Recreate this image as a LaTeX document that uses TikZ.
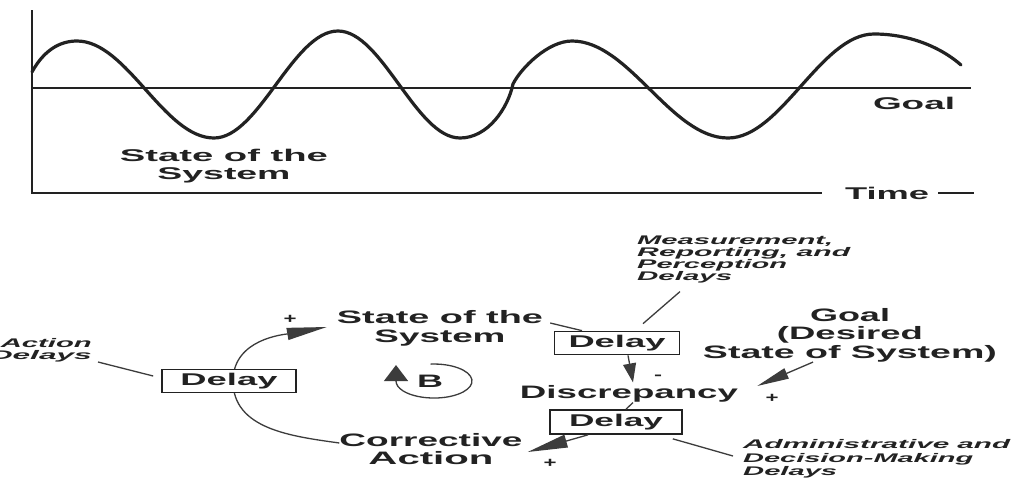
\documentclass[tikz,border=0pt]{standalone}
\usepackage{fontspec}
\setmainfont{Liberation Sans}
\usepackage{graphicx}
\usetikzlibrary{arrows.meta,backgrounds}
\definecolor{ink}{HTML}{222222}
\definecolor{wire}{HTML}{3C3C3C}
\newcommand\W[2]{\resizebox{#1pt}{\height}{#2}}
\begin{document}
\begin{tikzpicture}[x=1pt,y=1pt,
  lbl/.style={font=\fontsize{18}{18.8}\selectfont\bfseries, align=center, inner sep=0pt, text=ink},
  toplbl/.style={font=\fontsize{17}{18}\selectfont\bfseries, align=center, inner sep=0pt, text=ink},
  note/.style={font=\fontsize{12.5}{12}\selectfont\bfseries\itshape, inner sep=0pt, text=ink},
  sign/.style={font=\fontsize{14}{14}\selectfont\bfseries, inner sep=0pt, text=ink},
  delaybox/.style={draw=ink, line width=1.7pt, fill=white, inner sep=0pt, font=\fontsize{17}{17}\selectfont\bfseries, text=ink},
  wirel/.style={draw=wire, line width=1.3pt},
  axisl/.style={draw=ink, line width=1.7pt},
  wavel/.style={draw=ink, line width=3.2pt, line join=round, line cap=round}]
\begin{pgfonlayer}{background}
  \fill[white] (0,0) rectangle (1013,-480);
\end{pgfonlayer}
\useasboundingbox (0,0) rectangle (1013,-480);

% ---------- top chart ----------
\coordinate (origin) at (32,-193);
\coordinate (ytop) at (32,-10);
\coordinate (gl0) at (32,-88);
\coordinate (gl1) at (971,-88);
\node[toplbl] (time) at (887,-193) {\W{84}{Time}};
\node[toplbl] (goaltop) at (914,-103) {\W{82}{Goal}};
\node[toplbl] (sot) at (224,-166) {\W{208}{State of the}\\\W{133}{System}};
\draw[axisl] (ytop) -- (origin) -- ([xshift=-23pt]time.west);
\draw[axisl] ([xshift=9pt]time.east) -- ([xshift=45pt]time.east);
\draw[axisl] (gl0) -- (gl1);
\draw[wavel] (32,-72)
  .. controls +(12,22) and +(-17,0) .. (77,-41)
  .. controls +(50,0) and +(-50,0) .. (214,-138)
  .. controls +(45,0) and +(-45,0) .. (338,-31)
  .. controls +(44,0) and +(-44,0) .. (460,-138)
  .. controls +(28,0) and +(-5,-24) .. (513,-84)
  .. controls +(8,16) and +(-24,0) .. (572,-41)
  .. controls +(57,0) and +(-57,0) .. (728,-138)
  .. controls +(53,0) and +(-53,0) .. (874,-34)
  .. controls +(38,0) and +(-18,16) .. (961,-65);

% ---------- bottom loop diagram ----------
\node[lbl] (ss) at (440,-328) {\W{206}{State of the}\\\W{131}{System}};
\node[lbl] (ca) at (431,-449) {\W{183}{Corrective}\\\W{125}{Action}};
\node[lbl] (dis) at (629,-394) {\W{218}{Discrepancy}};
\node[lbl, font=\fontsize{18}{18.5}\selectfont\bfseries] (goal) at (850,-335)
  {\W{80}{Goal}\\\W{146}{(Desired}\\\W{294}{State of System)}};
\node[lbl] (B) at (430,-381) {\W{26}{B}};

\node[delaybox, minimum width=134pt, minimum height=23pt] (d1) at (229,-381) {\W{97}{Delay}};
\node[delaybox, minimum width=125pt, minimum height=23pt] (d2) at (617,-343) {\W{97}{Delay}};
\node[delaybox, minimum width=132pt, minimum height=24pt] (d3) at (616,-422) {\W{94}{Delay}};

\node[note, align=right, anchor=east] (act) at (92,-350) {\W{91}{Action}\\\W{102}{Delays}};
\node[note, align=left, anchor=north west] (meas) at (637,-236)
  {\W{196}{Measurement,}\\\W{213}{Reporting, and}\\\W{150}{Perception}\\\W{95}{Delays}};
\node[note, align=left, anchor=west, font=\fontsize{12.5}{13.5}\selectfont\bfseries\itshape] (adm) at (743,-459)
  {\W{267}{Administrative and}\\\W{230}{Decision-Making}\\\W{94}{Delays}};

\node[sign] (p1) at (290,-319) {\W{13}{+}};
\node[sign] (p2) at (772,-398) {\W{13}{+}};
\node[sign] (p3) at (550,-463) {\W{13}{+}};
\node[sign] (m1) at (658,-377) {\W{8}{-}};

% connectors
\begin{pgfonlayer}{background}
  \draw[wirel, -{Triangle[length=40pt,width=12pt]}]
    ([yshift=6pt]ca.west) to[out=172,in=-90] ([xshift=4pt]d1.center)
    to[out=90,in=190] ([shift={(-10pt,1pt)}]ss.west);
\end{pgfonlayer}
\draw[wirel] ([shift={(6pt,-12pt)}]act.east) -- ([shift={(-8pt,5pt)}]d1.west);
\draw[wirel] ([shift={(7pt,5pt)}]ss.east) -- ([xshift=-35pt]d2.north);
\draw[wirel] ([shift={(43pt,-8pt)}]meas.south west) -- ([shift={(26pt,7pt)}]d2.north);
\draw[wirel, -{Triangle[length=19pt,width=13pt]}] ([xshift=11pt]d2.south) -- ([shift={(4pt,3pt)}]dis.north);
\draw[wirel, -{Triangle[length=32pt,width=11pt]}] ([xshift=-37pt]goal.south) -- ([shift={(19pt,8pt)}]dis.east);
\draw[wirel] ([xshift=4pt]dis.south) -- ([xshift=10pt]d3.north);
\draw[wirel, -{Triangle[length=40pt,width=13pt]}] ([xshift=-28pt]d3.south) -- ([shift={(5pt,-3pt)}]ca.east);
\draw[wirel] ([shift={(-10pt,-4pt)}]d3.south east) -- ([shift={(-10pt,3pt)}]adm.west);
\draw[wirel, -{Triangle[length=16pt,width=24pt]}]
  ([shift={(0.7pt,16.9pt)}]B.center) arc[start angle=95, end angle=-180, x radius=38pt, y radius=17pt]
  -- ++(0,16pt);
\end{tikzpicture}
\end{document}
